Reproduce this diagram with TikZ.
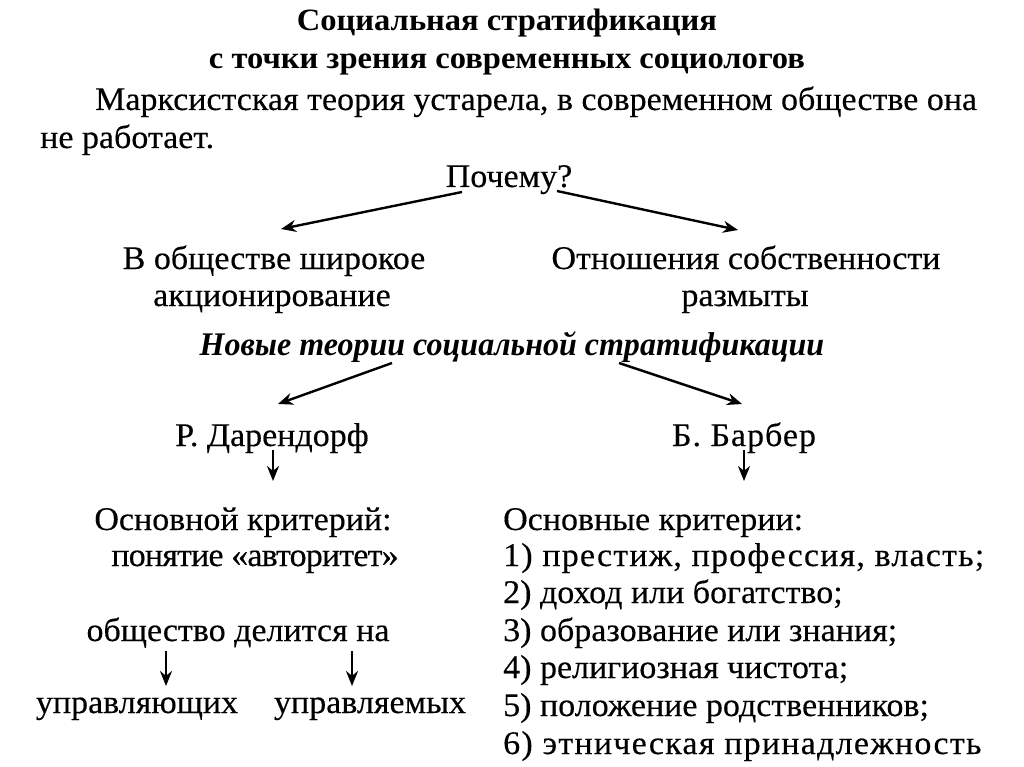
\documentclass[tikz,border=0pt]{standalone}
\usepackage{fontspec}
\setmainfont{Liberation Serif}[FakeStretch=1.03, FakeBold=0.3]
\newfontfamily\ttlfont{Liberation Serif Bold}[FakeStretch=1.05]
\newfontfamily\itbfont{Liberation Serif Bold Italic}[FakeStretch=0.97]
\usetikzlibrary{arrows.meta}
\tikzset{
  txt/.style={inner sep=0pt, anchor=base, font=\fontsize{33}{38}\selectfont},
  spaced/.style={font=\fontsize{33}{38}\selectfont\addfontfeature{LetterSpace=#1}},
  ttl/.style={inner sep=0pt, anchor=base, font=\fontsize{31}{36}\selectfont\ttlfont},
  arr/.style={line width=2.4pt, -{Stealth[length=15pt,width=12pt]}},
}
\begin{document}
\begin{tikzpicture}[x=1pt,y=-1pt]
\useasboundingbox[fill=white] (0,0) rectangle (1024,767);
% title
\node[ttl] (t1) at (507,31) {Социальная стратификация};
\node[ttl] (t2) at (507,69) {с точки зрения современных социологов};
\node[txt, anchor=base west] (p1) at (95,110) {Марксистская теория устарела, в современном обществе она};
\node[txt, anchor=base west] (p2) at (40,148) {не работает.};
\node[txt] (why) at (509,187) {Почему?};
% branches
\node[txt] (l1) at (274,269) {В обществе широкое};
\node[txt] (l2) at (272,306) {акционирование};
\node[txt] (r1) at (746,269) {Отношения собственности};
\node[txt] (r2) at (745,306) {размыты};
\node[txt, font=\fontsize{33}{38}\selectfont\itbfont] (nt) at (512,355) {Новые теории социальной стратификации};
\node[txt] (dar) at (272,446) {Р. Дарендорф};
\node[txt, spaced=3] (bar) at (744,446) {Б. Барбер};
% left column
\node[txt] (lc1) at (243,530) {Основной критерий:};
\node[txt, spaced=-2.5] (lc2) at (255,566) {понятие «авторитет»};
\node[txt] (div) at (238,641) {общество делится на};
\node[txt] (m1) at (137,713) {управляющих};
\node[txt] (m2) at (370,713) {управляемых};
% right column
\node[txt, anchor=base west] (rc0) at (503,530) {Основные критерии:};
\node[txt, anchor=base west, spaced=3.6] (rc1) at (503,566) {1) престиж, профессия, власть;};
\node[txt, anchor=base west] (rc2) at (503,603) {2) доход или богатство;};
\node[txt, anchor=base west] (rc3) at (503,641) {3) образование или знания;};
\node[txt, anchor=base west] (rc4) at (503,678) {4) религиозная чистота;};
\node[txt, anchor=base west] (rc5) at (503,716) {5) положение родственников;};
\node[txt, anchor=base west, spaced=3.8] (rc6) at (503,754) {6) этническая принадлежность};
% arrow endpoints
\coordinate (w1) at (462,192); \coordinate (w1e) at (281,229);
\coordinate (w2) at (557,191); \coordinate (w2e) at (738,230);
\coordinate (n1) at (392,363); \coordinate (n1e) at (278,404);
\coordinate (n2) at (619,363); \coordinate (n2e) at (742,404);
\coordinate (d1) at (273,450); \coordinate (d1e) at (273,481);
\coordinate (b1) at (744,450); \coordinate (b1e) at (744,481);
\coordinate (v1) at (166,651); \coordinate (v1e) at (166,686);
\coordinate (v2) at (352,651); \coordinate (v2e) at (352,686);
\draw[arr] (w1) -- (w1e);
\draw[arr] (w2) -- (w2e);
\draw[arr] (n1) -- (n1e);
\draw[arr] (n2) -- (n2e);
\draw[arr] (d1) -- (d1e);
\draw[arr] (b1) -- (b1e);
\draw[arr] (v1) -- (v1e);
\draw[arr] (v2) -- (v2e);
\end{tikzpicture}
\end{document}
